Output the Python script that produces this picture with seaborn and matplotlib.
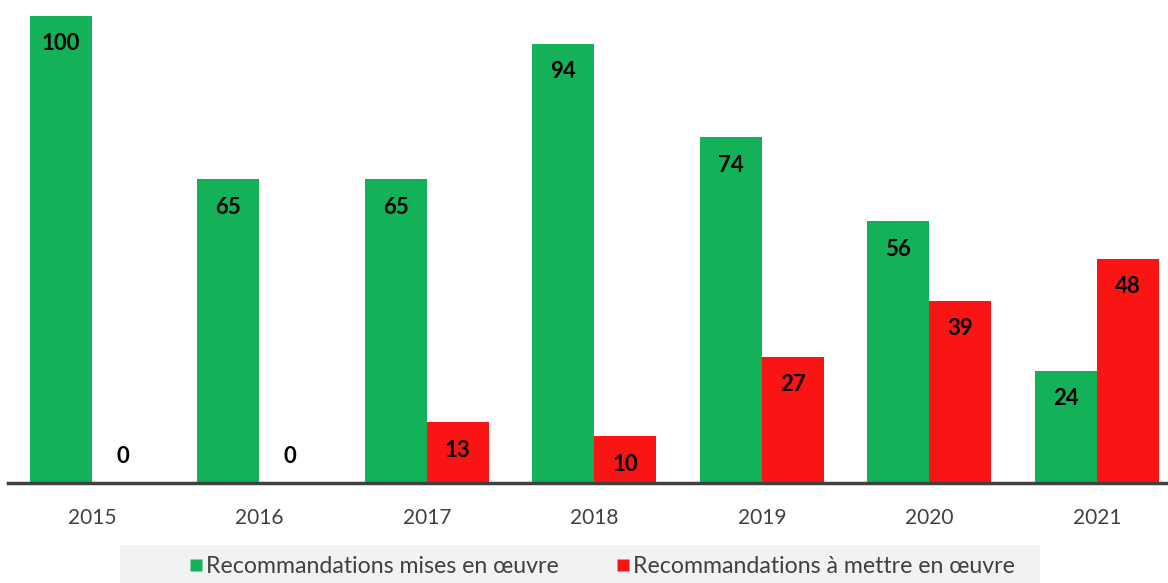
import pandas as pd
import seaborn as sns
import matplotlib.pyplot as plt
import matplotlib.patches as mpatches
from matplotlib.lines import Line2D

# data
years = ["2015", "2016", "2017", "2018", "2019", "2020", "2021"]
mises = [100, 65, 65, 94, 74, 56, 24]
a_mettre = [0, 0, 13, 10, 27, 39, 48]
series = ["Recommandations mises en œuvre", "Recommandations à mettre en œuvre"]
colors = ["#14b258", "#fb1414"]

df = pd.DataFrame(
    {
        "Année": years * 2,
        "Valeur": mises + a_mettre,
        "Série": [series[0]] * len(years) + [series[1]] * len(years),
    }
)

sns.set_theme(style="white")
plt.rcParams["font.family"] = ["Lato", "DejaVu Sans"]

W, H = 1168, 583
fig = plt.figure(figsize=(W / 100, H / 100), dpi=100)
ax = fig.add_axes([8 / W, 100 / H, 1 - 8 / W, 1 - 100 / H])

sns.barplot(
    data=df,
    x="Année",
    y="Valeur",
    hue="Série",
    palette=colors,
    saturation=1,
    width=0.74,
    linewidth=0,
    legend=False,
    ax=ax,
)

ax.set_xlim(-0.5, 6.425)
ax.set_ylim(0, 103.4)
ax.set_xlabel("")
ax.set_ylabel("")
ax.set_yticks([])
for side in ["top", "right", "left"]:
    ax.spines[side].set_visible(False)
ax.spines["bottom"].set_color("#404040")
ax.spines["bottom"].set_linewidth(2.5)
ax.tick_params(axis="x", length=0, pad=18, labelsize=15, labelcolor="#404040")

# value labels inside the top of each bar (above the axis when zero)
for cont in ax.containers:
    for bar in cont:
        h = bar.get_height()
        cx = bar.get_x() + bar.get_width() / 2
        off = -20 if h > 0 else 19
        ax.annotate(
            f"{int(round(h))}",
            (cx, h),
            xytext=(0, off),
            textcoords="offset points",
            ha="center",
            va="center",
            fontsize=16,
            fontweight="bold",
            color="black",
        )

# legend band at the bottom
fig.patches.append(
    mpatches.Rectangle(
        (120 / W, 0), 920 / W, 38 / H, transform=fig.transFigure,
        facecolor="#f2f2f2", edgecolor="none", zorder=0,
    )
)
handles = [
    Line2D([], [], marker="s", linestyle="none", markersize=9,
           markerfacecolor=c, markeredgecolor="none")
    for c in colors
]
fig.legend(
    handles,
    series,
    loc="lower center",
    bbox_to_anchor=(0.515, -0.025),
    ncol=2,
    frameon=False,
    fontsize=16.7,
    labelcolor="#404040",
    handletextpad=0.1,
    columnspacing=2.4,
    handlelength=0.7,
)

fig.savefig("out.png", dpi=100)
